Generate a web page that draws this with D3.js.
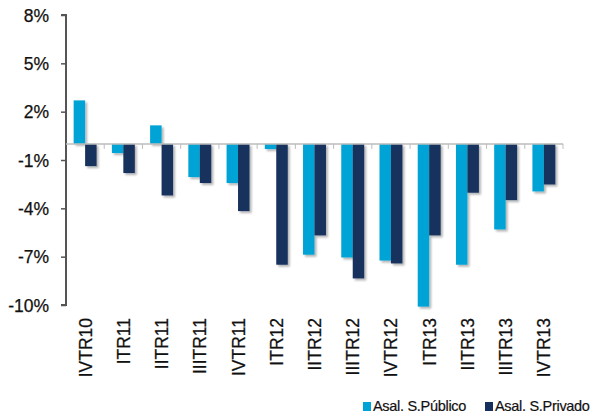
<!DOCTYPE html>
<html><head><meta charset="utf-8">
<script src="https://cdn.jsdelivr.net/npm/d3@7"></script>
<style>body{margin:0;background:#fff}svg{display:block;font-family:"Liberation Sans",Arial,sans-serif}</style>
</head><body><svg id="c" width="597" height="417"></svg>
<script>
const categories=["IVTR10","ITR11","IITR11","IIITR11","IVTR11","ITR12","IITR12","IIITR12","IVTR12","ITR13","IITR13","IIITR13","IVTR13"];
const publico=[2.7,-0.57,1.15,-2.06,-2.43,-0.32,-6.88,-7.05,-7.24,-10.1,-7.5,-5.31,-2.95];
const privado=[-1.38,-1.81,-3.2,-2.43,-4.17,-7.5,-5.68,-8.35,-7.42,-5.68,-3.03,-3.49,-2.52];
const yTicks=[8,5,2,-1,-4,-7,-10];
const seriesNames=["Asal. S.Público","Asal. S.Privado"];
const colors=["#00a3d6","#16305d"];

const svg=d3.select("#c");
const x0=d3.scaleBand().domain(categories).range([66,563]).paddingInner(0.4).paddingOuter(0.2);
const xb=d3.scaleBand().domain(categories).range([66,563]);
const x1=d3.scaleBand().domain([0,1]).range([0,x0.bandwidth()]);
const y=d3.scaleLinear().domain([-10,8]).range([305,15]);

const defs=svg.append("defs");
const f=defs.append("filter").attr("id","sh").attr("x","-20%").attr("y","-20%").attr("width","160%").attr("height","160%");
f.append("feGaussianBlur").attr("in","SourceAlpha").attr("stdDeviation",1.2).attr("result","b");
f.append("feOffset").attr("in","b").attr("dx",2).attr("dy",2).attr("result","o");
f.append("feComponentTransfer").attr("in","o").attr("result","o2").append("feFuncA").attr("type","linear").attr("slope",0.3);
const m=f.append("feMerge");m.append("feMergeNode").attr("in","o2");m.append("feMergeNode").attr("in","SourceGraphic");

// y axis
const ya=svg.append("g").attr("transform","translate(66,0)").call(d3.axisLeft(y).tickValues(yTicks).tickSize(5).tickFormat(d=>d+"%"));
ya.select(".domain").attr("stroke","#555").attr("stroke-width",2).attr("d","M-5,15H0V305H-5");
ya.selectAll(".tick line").attr("stroke","#555").attr("stroke-width",1.5);
ya.selectAll(".tick text").attr("font-size",17.5).attr("fill","#111").attr("x",-17).attr("dy","0.36em")
  .attr("stroke","#111").attr("stroke-width",0.25).attr("font-family","Liberation Sans, Arial, sans-serif");

const data=categories.map((c,i)=>({c,v:[publico[i],privado[i]]}));
const g=svg.append("g").attr("filter","url(#sh)");
data.forEach(d=>{
  d.v.forEach((v,k)=>{
    g.append("rect").attr("x",x0(d.c)+x1(k)).attr("width",x1.bandwidth())
     .attr("y",y(Math.max(0,v))).attr("height",Math.abs(y(v)-y(0))).attr("fill",colors[k]);
  });
});

// zero line with ticks
const za=svg.append("g").attr("transform",`translate(0,${y(0)})`);
za.append("line").attr("x1",66).attr("x2",563).attr("stroke","#bdbdbd").attr("stroke-width",1.5);
const bounds=categories.map(c=>xb(c)+xb.bandwidth());
za.selectAll("line.t").data(bounds).enter().append("line").attr("x1",d=>d).attr("x2",d=>d).attr("y1",0).attr("y2",5).attr("stroke","#bdbdbd").attr("stroke-width",1);

// x labels
svg.append("g").selectAll("text").data(categories).enter().append("text")
 .attr("transform",d=>`translate(${xb(d)+xb.bandwidth()/2+6.5},318) rotate(-90)`)
 .attr("text-anchor","end").attr("font-size",17.5).attr("fill","#111")
 .attr("stroke","#111").attr("stroke-width",0.25).text(d=>d);

// legend
const lg=svg.append("g");
const lx=[363,485];
seriesNames.forEach((n,i)=>{
  lg.append("rect").attr("x",lx[i]).attr("y",402).attr("width",8).attr("height",9).attr("fill",colors[i]);
  lg.append("text").attr("x",lx[i]+10).attr("y",411).attr("font-size",14.5).attr("fill","#111")
   .attr("stroke","#111").attr("stroke-width",0.2).attr("letter-spacing","-0.3").text(n);
});
</script></body></html>
